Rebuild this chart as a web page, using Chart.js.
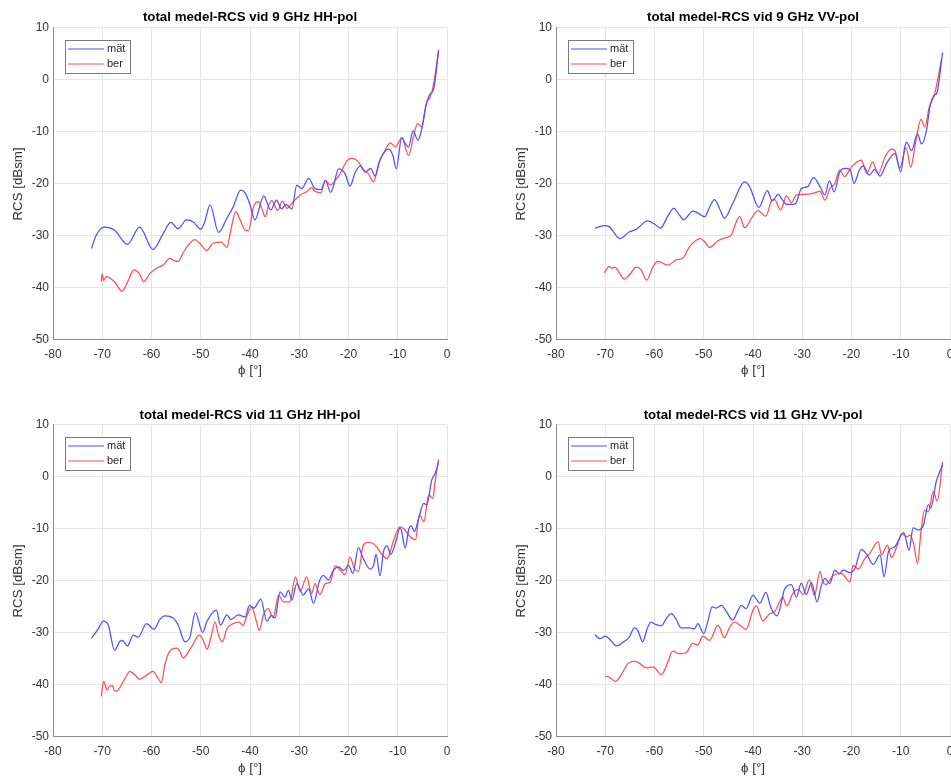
<!DOCTYPE html>
<html><head><meta charset="utf-8">
<script src="https://cdn.jsdelivr.net/npm/chart.js@4.4.0/dist/chart.umd.min.js"></script>
<style>
html,body{margin:0;padding:0;background:#fff;overflow:hidden;width:951px;height:776px;position:relative}
canvas{position:absolute}
</style></head><body>
<canvas id="c0" style="left:0px;top:0px" width="475" height="388"></canvas>
<canvas id="c1" style="left:476px;top:0px" width="490" height="388"></canvas>
<canvas id="c2" style="left:0px;top:388px" width="475" height="400"></canvas>
<canvas id="c3" style="left:476px;top:388px" width="490" height="400"></canvas>
<script>
// ---- tick labels / categories ----
const xTicks = [-80,-70,-60,-50,-40,-30,-20,-10,0];
const yTicks = [-50,-40,-30,-20,-10,0,10];
const titles = ['total medel-RCS vid 9 GHz HH-pol','total medel-RCS vid 9 GHz VV-pol','total medel-RCS vid 11 GHz HH-pol','total medel-RCS vid 11 GHz VV-pol'];
const seriesNames = ['mät','ber'];
const xLabel = 'ϕ [°]';
const yLabel = 'RCS [dBsm]';

// ---- series values [phi, RCS] ----
const hh9Mat = [[-72.2,-32.4],[-71.2,-29.8],[-69.5,-28.3],[-67.5,-28.9],[-64.9,-31.6],[-62.4,-28.3],[-59.7,-32.6],[-57.6,-29.5],[-56.1,-27.4],[-54.6,-28.6],[-52.9,-26.9],[-51.5,-27.3],[-50.0,-28.7],[-49.2,-27.3],[-48.1,-24.0],[-46.4,-29.3],[-44.7,-26.6],[-43.4,-24.4],[-41.9,-21.2],[-41.0,-21.7],[-40.1,-23.7],[-39.0,-26.9],[-37.2,-22.3],[-35.8,-25.0],[-34.6,-23.1],[-33.6,-24.8],[-32.7,-23.9],[-31.5,-24.8],[-30.5,-20.2],[-29.5,-20.9],[-28.1,-18.9],[-26.8,-20.9],[-25.6,-21.1],[-24.7,-19.3],[-23.6,-21.6],[-23.1,-20.5],[-22.0,-17.1],[-20.7,-18.0],[-19.7,-20.4],[-18.6,-17.7],[-17.6,-16.5],[-16.6,-17.7],[-15.5,-17.0],[-14.6,-18.5],[-13.6,-15.4],[-11.9,-13.3],[-11.0,-14.5],[-10.3,-17.1],[-9.2,-11.1],[-8.5,-12.2],[-7.8,-12.9],[-6.9,-9.8],[-5.9,-11.6],[-5.1,-9.3],[-4.4,-5.5],[-3.5,-2.8],[-2.7,-1.7],[-1.7,5.7]];
const hh9Ber = [[-70.2,-38.8],[-70.0,-37.3],[-69.7,-38.6],[-69.2,-37.8],[-67.5,-38.8],[-66.0,-40.6],[-64.7,-38.5],[-63.6,-36.5],[-62.5,-37.2],[-61.6,-38.8],[-60.3,-37.2],[-59.0,-36.2],[-57.6,-35.6],[-56.3,-34.3],[-55.3,-34.8],[-54.6,-34.9],[-53.6,-33.3],[-52.5,-31.7],[-51.2,-30.7],[-50.2,-31.4],[-48.8,-32.8],[-47.5,-31.4],[-45.8,-31.2],[-44.7,-32.2],[-43.9,-28.9],[-42.9,-25.3],[-42.0,-26.9],[-41.0,-28.9],[-40.3,-29.0],[-39.3,-24.4],[-38.3,-23.4],[-37.6,-24.7],[-36.9,-26.3],[-36.3,-24.4],[-35.6,-23.2],[-34.4,-25.1],[-33.4,-23.3],[-32.5,-24.7],[-31.5,-23.7],[-29.8,-22.1],[-28.5,-21.5],[-27.5,-20.7],[-26.8,-21.4],[-25.6,-21.7],[-24.7,-19.3],[-23.7,-20.2],[-22.7,-19.3],[-21.7,-18.0],[-20.3,-15.5],[-19.3,-15.1],[-18.0,-15.7],[-17.0,-17.3],[-16.0,-18.0],[-14.9,-19.6],[-13.9,-16.1],[-12.9,-14.1],[-11.5,-12.1],[-10.5,-12.9],[-9.6,-11.6],[-9.2,-11.1],[-7.8,-14.5],[-6.8,-10.9],[-6.0,-8.4],[-5.1,-9.0],[-4.2,-4.5],[-3.4,-3.3],[-2.7,-0.7],[-1.7,5.8]];
const vv9Mat = [[-72.1,-28.5],[-70.2,-28.0],[-69.2,-28.2],[-67.0,-30.5],[-65.1,-29.2],[-63.7,-28.7],[-61.4,-27.1],[-60.0,-27.7],[-58.8,-28.5],[-57.3,-26.2],[-56.1,-24.7],[-54.9,-26.0],[-54.1,-26.9],[-52.2,-25.2],[-51.0,-25.7],[-49.8,-26.3],[-48.8,-24.4],[-47.8,-23.0],[-46.8,-24.7],[-45.8,-26.6],[-44.1,-23.7],[-41.7,-19.6],[-40.7,-20.5],[-38.8,-24.5],[-37.1,-21.3],[-36.1,-23.2],[-34.9,-22.0],[-34.2,-22.8],[-33.2,-23.9],[-31.9,-23.9],[-31.3,-23.7],[-30.2,-20.9],[-28.9,-20.5],[-27.7,-18.8],[-26.4,-20.5],[-25.4,-22.1],[-24.5,-19.4],[-23.5,-21.5],[-22.4,-17.7],[-21.4,-17.0],[-20.3,-17.2],[-19.5,-19.9],[-18.4,-17.3],[-17.6,-16.5],[-16.4,-18.3],[-15.3,-17.2],[-14.2,-18.5],[-12.9,-16.1],[-11.2,-14.1],[-10.0,-17.7],[-9.2,-12.9],[-8.8,-12.0],[-7.8,-13.6],[-6.6,-10.3],[-5.8,-12.3],[-4.7,-9.3],[-4.1,-5.2],[-3.1,-2.9],[-2.7,-2.6],[-1.5,5.3]];
const vv9Ber = [[-70.2,-37.1],[-69.2,-35.9],[-68.6,-36.2],[-68.1,-36.0],[-66.1,-38.3],[-65.1,-37.5],[-63.7,-36.0],[-62.7,-36.5],[-61.6,-38.5],[-60.3,-35.9],[-59.3,-34.9],[-57.3,-35.6],[-55.6,-34.6],[-54.2,-34.2],[-52.9,-32.1],[-50.7,-30.5],[-49.8,-31.1],[-48.8,-32.2],[-47.1,-30.9],[-45.4,-30.3],[-44.4,-29.8],[-43.4,-27.3],[-42.7,-26.3],[-41.7,-28.4],[-40.3,-26.6],[-39.0,-25.1],[-37.4,-26.2],[-36.3,-23.4],[-35.6,-23.0],[-34.4,-25.0],[-33.2,-22.3],[-32.2,-23.6],[-31.2,-22.1],[-29.5,-22.0],[-27.8,-21.8],[-26.4,-21.4],[-25.4,-23.1],[-24.4,-20.9],[-23.4,-19.9],[-22.4,-17.3],[-21.4,-18.6],[-20.0,-16.7],[-18.0,-15.4],[-16.9,-18.0],[-15.7,-15.8],[-14.6,-18.1],[-13.2,-14.8],[-11.9,-13.3],[-11.2,-13.5],[-10.2,-17.0],[-8.9,-13.0],[-8.0,-16.8],[-6.9,-11.6],[-5.9,-7.6],[-5.1,-9.0],[-4.2,-5.2],[-3.1,-2.6],[-1.7,4.1]];
const hh11Mat = [[-72.2,-31.0],[-70.8,-29.2],[-69.8,-27.7],[-68.8,-28.4],[-67.5,-33.3],[-66.4,-31.6],[-65.9,-31.4],[-64.9,-32.5],[-63.7,-30.4],[-62.7,-30.8],[-61.0,-28.2],[-59.5,-29.3],[-58.3,-27.4],[-57.3,-26.7],[-55.6,-27.1],[-54.6,-28.4],[-53.2,-31.7],[-52.2,-30.8],[-51.1,-26.1],[-49.6,-29.9],[-48.8,-27.9],[-46.8,-25.6],[-46.0,-28.5],[-44.7,-26.5],[-43.9,-27.4],[-42.4,-26.5],[-41.0,-26.9],[-40.1,-24.7],[-39.2,-25.2],[-37.8,-23.5],[-36.6,-27.7],[-35.6,-26.6],[-34.9,-27.1],[-33.9,-22.1],[-32.9,-23.1],[-32.2,-21.8],[-31.5,-23.7],[-30.5,-20.5],[-29.2,-22.7],[-28.1,-21.5],[-27.1,-24.3],[-25.9,-20.0],[-25.1,-18.9],[-24.1,-19.8],[-23.1,-18.0],[-22.0,-17.3],[-21.0,-18.0],[-20.0,-17.0],[-19.1,-18.6],[-18.0,-13.6],[-17.0,-15.7],[-15.6,-17.7],[-14.9,-17.0],[-14.4,-14.9],[-13.6,-19.0],[-12.9,-14.4],[-12.2,-13.2],[-11.4,-14.9],[-10.5,-12.8],[-9.5,-9.8],[-9.2,-10.5],[-8.5,-13.7],[-7.8,-10.2],[-7.3,-9.4],[-6.6,-10.5],[-5.8,-8.1],[-4.7,-5.1],[-4.1,-5.4],[-3.1,-0.6],[-2.4,0.7],[-1.7,2.9]];
const hh11Ber = [[-70.2,-42.2],[-69.7,-39.3],[-69.0,-41.0],[-68.5,-40.2],[-67.9,-40.1],[-67.5,-41.2],[-66.8,-41.0],[-65.4,-38.8],[-64.4,-37.4],[-63.1,-38.3],[-62.4,-38.9],[-61.0,-38.1],[-59.7,-37.4],[-58.6,-38.8],[-58.0,-39.6],[-57.3,-36.2],[-56.3,-33.5],[-54.9,-32.9],[-54.2,-33.6],[-53.6,-34.8],[-51.9,-32.7],[-50.3,-30.4],[-49.5,-31.4],[-48.7,-33.1],[-48.0,-31.1],[-47.1,-27.9],[-46.4,-30.4],[-45.6,-31.7],[-44.7,-29.2],[-43.4,-28.2],[-42.2,-27.9],[-41.4,-28.6],[-40.7,-26.9],[-39.7,-25.0],[-38.8,-27.4],[-38.1,-29.5],[-37.3,-26.6],[-36.3,-25.3],[-35.3,-27.1],[-34.2,-22.7],[-33.2,-24.0],[-31.9,-24.0],[-30.8,-19.2],[-29.8,-22.0],[-28.5,-19.2],[-27.5,-22.4],[-26.8,-20.5],[-25.8,-22.6],[-24.7,-20.5],[-23.7,-20.2],[-22.7,-17.1],[-21.7,-17.9],[-20.7,-18.8],[-19.7,-15.4],[-18.8,-17.6],[-18.0,-18.2],[-17.0,-13.1],[-15.9,-12.6],[-14.6,-13.1],[-13.2,-14.9],[-12.2,-15.7],[-10.8,-12.1],[-9.6,-9.6],[-8.8,-9.9],[-7.5,-11.5],[-6.4,-12.1],[-5.6,-7.3],[-4.7,-8.6],[-3.7,-3.4],[-2.9,-4.1],[-2.4,-0.8],[-1.7,3.4]];
const vv11Mat = [[-72.1,-30.3],[-71.1,-31.1],[-70.0,-30.6],[-69.2,-31.1],[-67.7,-32.5],[-66.1,-31.6],[-65.1,-30.8],[-64.1,-29.0],[-63.4,-29.5],[-62.4,-31.7],[-61.5,-29.2],[-60.7,-27.9],[-59.7,-28.4],[-58.6,-28.6],[-57.6,-27.2],[-56.6,-26.3],[-55.6,-27.4],[-54.6,-29.0],[-52.9,-29.0],[-51.9,-29.2],[-51.2,-28.2],[-50.0,-30.1],[-49.2,-27.9],[-48.3,-25.0],[-47.5,-25.2],[-46.4,-24.7],[-45.4,-25.9],[-44.1,-27.5],[-43.1,-25.8],[-42.4,-24.7],[-41.4,-25.3],[-40.0,-22.7],[-39.3,-23.5],[-38.6,-24.3],[-37.4,-22.2],[-36.3,-25.3],[-35.1,-26.7],[-34.2,-24.0],[-33.6,-21.6],[-32.2,-20.7],[-31.2,-23.1],[-30.2,-20.4],[-29.2,-22.6],[-28.1,-20.3],[-27.0,-24.0],[-26.1,-20.8],[-25.4,-19.5],[-24.4,-20.5],[-23.4,-17.9],[-22.4,-18.6],[-21.7,-17.9],[-20.3,-18.4],[-19.3,-17.6],[-18.0,-13.9],[-16.9,-14.9],[-15.6,-16.8],[-14.2,-15.0],[-13.4,-19.2],[-12.5,-14.4],[-11.2,-13.4],[-9.4,-10.7],[-8.3,-14.1],[-7.5,-9.8],[-6.4,-10.2],[-5.4,-9.3],[-4.4,-5.3],[-3.9,-6.0],[-2.8,-0.9],[-2.2,0.7],[-1.5,2.4]];
const vv11Ber = [[-70.0,-38.3],[-69.2,-38.5],[-67.9,-39.3],[-66.8,-38.1],[-65.4,-35.9],[-64.1,-35.4],[-63.1,-35.8],[-61.7,-36.7],[-60.3,-36.5],[-58.6,-38.0],[-57.3,-35.6],[-56.3,-33.5],[-54.9,-34.0],[-53.6,-33.8],[-52.2,-32.0],[-51.2,-32.3],[-50.2,-30.6],[-48.8,-31.4],[-47.1,-28.5],[-45.8,-30.9],[-44.7,-28.8],[-43.7,-27.9],[-42.4,-28.7],[-41.4,-29.3],[-40.0,-25.6],[-39.3,-24.8],[-38.0,-27.7],[-36.6,-26.3],[-35.6,-25.9],[-34.6,-24.0],[-34.0,-23.1],[-33.1,-24.8],[-31.9,-22.4],[-30.8,-21.6],[-29.8,-22.6],[-28.6,-19.8],[-27.5,-22.7],[-26.4,-18.2],[-25.8,-20.2],[-25.2,-20.7],[-23.7,-18.9],[-22.0,-18.6],[-20.3,-20.2],[-19.7,-17.0],[-18.6,-17.7],[-17.3,-15.7],[-16.3,-14.7],[-14.6,-12.5],[-13.9,-15.0],[-12.7,-13.1],[-11.9,-15.5],[-10.8,-13.4],[-9.8,-10.9],[-8.8,-11.5],[-8.1,-11.2],[-7.4,-12.8],[-6.6,-16.6],[-5.9,-10.6],[-5.2,-6.4],[-4.4,-6.7],[-3.4,-2.8],[-2.6,-4.6],[-1.5,2.9]];

// ---- styling / layout (kept separate from data) ----
const FONT = '"Liberation Sans", Arial, Helvetica, sans-serif';
const COLORS = ['rgb(80,80,255)', 'rgb(255,80,80)'];
const panels = [
  {id:'c0', title:titles[0], series:[hh9Mat, hh9Ber],  yw:53, rp:28, xh:48, tTop:9.5, tBot:2.5, xtB:10,   ytT:10.3},
  {id:'c1', title:titles[1], series:[vv9Mat, vv9Ber],  yw:80, rp:16, xh:48, tTop:9.5, tBot:2.5, xtB:10,   ytT:37},
  {id:'c2', title:titles[2], series:[hh11Mat, hh11Ber], yw:53, rp:28, xh:51, tTop:19,  tBot:2,   xtB:11.5, ytT:10.3},
  {id:'c3', title:titles[3], series:[vv11Mat, vv11Ber], yw:80, rp:16, xh:51, tTop:19,  tBot:2,   xtB:11.5, ytT:37}
];

Chart.defaults.font.family = FONT;

const boxLegend = {
  id: 'boxLegend',
  afterDatasetsDraw(chart) {
    const {ctx, chartArea: ca} = chart;
    const x0 = Math.round(ca.left) + 12, y0 = Math.round(ca.top) + 12, w = 65, h = 33;
    ctx.save();
    ctx.fillStyle = '#ffffff';
    ctx.fillRect(x0, y0, w, h);
    ctx.strokeStyle = '#7a7a7a';
    ctx.lineWidth = 1;
    ctx.strokeRect(x0 + 0.5, y0 + 0.5, w, h);
    ctx.font = '11px ' + FONT;
    ctx.textBaseline = 'middle';
    chart.data.datasets.forEach((ds, i) => {
      const y = y0 + 9 + i * 15;
      ctx.strokeStyle = ds.borderColor;
      ctx.lineWidth = 1.2;
      ctx.beginPath();
      ctx.moveTo(x0 + 3, y);
      ctx.lineTo(x0 + 39, y);
      ctx.stroke();
      ctx.fillStyle = '#262626';
      ctx.fillText(ds.label, x0 + 42, y);
    });
    ctx.restore();
  }
};

panels.forEach(p => {
  new Chart(document.getElementById(p.id), {
    type: 'line',
    data: {
      datasets: p.series.map((s, i) => ({
        label: seriesNames[i],
        data: s.map(v => ({x: v[0], y: v[1]})),
        borderColor: COLORS[i],
        borderWidth: 1.25,
        pointRadius: 0,
        fill: false,
        cubicInterpolationMode: 'monotone'
      }))
    },
    options: {
      responsive: false,
      animation: false,
      devicePixelRatio: 1,
      layout: {padding: {left: 0, right: p.rp, top: 0, bottom: 0}},
      plugins: {
        legend: {display: false},
        tooltip: {enabled: false},
        title: {
          display: true, text: p.title, fullSize: false, color: '#000',
          font: {size: 13.3, weight: 'bold'},
          padding: {top: p.tTop, bottom: p.tBot}
        }
      },
      scales: {
        x: {
          type: 'linear', min: xTicks[0], max: xTicks[xTicks.length - 1],
          afterBuildTicks: s => { s.ticks = xTicks.map(v => ({value: v})); },
          afterFit: s => { s.height = p.xh; },
          ticks: {color: '#333', font: {size: 12}, padding: 7, autoSkip: false, maxRotation: 0},
          grid: {color: '#e6e6e6', drawTicks: false},
          border: {color: '#8c8c8c'},
          title: {display: true, text: xLabel, color: '#333', font: {size: 13.3}, padding: {top: 0, bottom: p.xtB}}
        },
        y: {
          type: 'linear', min: yTicks[0], max: yTicks[yTicks.length - 1],
          afterBuildTicks: s => { s.ticks = yTicks.map(v => ({value: v})); },
          afterFit: s => { s.width = p.yw; },
          ticks: {color: '#333', font: {size: 12}, padding: 4, autoSkip: false},
          grid: {color: '#e6e6e6', drawTicks: false},
          border: {color: '#8c8c8c'},
          title: {display: true, text: yLabel, color: '#333', font: {size: 13.3}, padding: {top: p.ytT, bottom: 0}}
        }
      }
    },
    plugins: [boxLegend]
  });
});
</script>
</body></html>
